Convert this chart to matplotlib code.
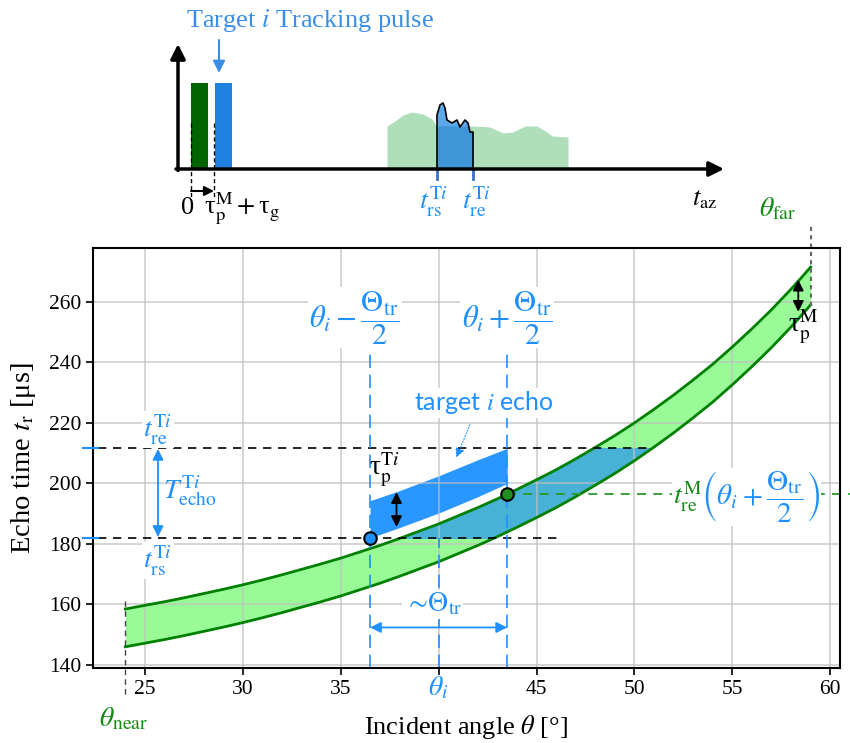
import numpy as np
import matplotlib.pyplot as plt
from matplotlib.patches import Rectangle

plt.rcParams['font.family'] = ['Liberation Serif', 'DejaVu Serif']
plt.rcParams['mathtext.fontset'] = 'stix'

# ---- main chart data ----
theta = np.array([24, 25, 26, 27, 28, 29, 30, 31, 32, 33, 34, 35, 36, 37, 38, 39, 40, 41,
                  42, 43, 44, 45, 46, 47, 48, 49, 50, 51, 52, 53, 54, 55, 56, 57, 58, 58.5, 59])
t_rs_M = np.array([146.0, 147.2, 148.4, 149.7, 151.1, 152.5, 154.0, 155.6, 157.3, 159.1,
                   160.9, 162.8, 164.9, 167.0, 169.3, 171.7, 174.1, 176.8, 179.5, 182.4,
                   185.5, 188.7, 192.0, 195.6, 199.4, 203.3, 207.5, 212.0, 216.7, 221.7,
                   226.9, 232.6, 238.6, 244.9, 251.7, 255.3, 259.0])
t_re_M = np.array([158.5, 159.7, 160.9, 162.2, 163.6, 165.0, 166.5, 168.1, 169.8, 171.6,
                   173.4, 175.3, 177.4, 179.5, 181.8, 184.2, 186.6, 189.3, 192.0, 194.9,
                   198.0, 201.2, 204.5, 208.1, 211.9, 215.8, 220.0, 224.5, 229.2, 234.2,
                   239.4, 245.1, 251.1, 257.4, 264.2, 267.8, 271.5])

theta_echo = np.array([36.5, 38, 40, 42, 43.5])
echo_low = np.array([182.0, 185.4, 190.2, 195.6, 200.0])
echo_high = np.array([194.3, 197.6, 202.5, 207.8, 211.6])

theta_i = 40.0
theta_lo, theta_hi = 36.5, 43.5
t_rs_T, t_re_T = 182.0, 211.7
t_green_dot = 196.5
theta_near, theta_far = 24.0, 59.0

xticks = [25, 30, 35, 40, 45, 50, 55, 60]
xticklabels = ['25', '30', '35', '', '45', '50', '55', '60']
yticks = [140, 160, 180, 200, 220, 240, 260]

# ---- top sketch data (sketch units) ----
pulse_x = [199.5, 223.5]
pulse_colors = ['#006400', '#1f80e0']
echo_x = [387, 395, 403, 412, 423, 432, 437, 473, 490, 503, 513, 525, 537, 547, 552, 568]
echo_top = [126, 121, 115, 112, 114, 119, 127, 126, 127, 133, 132, 126, 126, 132, 136, 137]
tgt_x = [437, 437, 440, 443, 445, 447, 452, 457, 460, 465, 468, 470, 473, 473]
tgt_top = [169, 115, 105, 103, 108, 120, 123, 120, 127, 120, 123, 132, 132, 169]

BLUE = '#1e90ff'
GREEN = '#138a13'
TAU = r'\mathregular{τ}'

fig = plt.figure(figsize=(8.5, 7.43), dpi=100)

# ================= main axes =================
ax = fig.add_axes([93 / 850, 1 - 668 / 743, (840 - 93) / 850, (668 - 248) / 743])
ax.set_xlim(22.35, 60.5)
ax.set_ylim(139, 277.8)
ax.grid(True, color='#bfbfbf', lw=1.2, alpha=0.75, zorder=1.5)
ax.set_axisbelow(False)
for s in ax.spines.values():
    s.set_linewidth(1.5)
    s.set_zorder(10)

ax.fill_between(theta, t_rs_M, t_re_M, color='#98fb98', zorder=1, lw=0)
teal = ax.fill_between(theta, t_rs_M, t_re_M, color='#48b2d6', zorder=1.2, lw=0)
clip = Rectangle((20, t_rs_T), 50, t_re_T - t_rs_T, transform=ax.transData)
teal.set_clip_path(clip)
ax.plot(theta, t_rs_M, color='green', lw=2, zorder=3)
ax.plot(theta, t_re_M, color='green', lw=2, zorder=3)

ax.fill_between(theta_echo, echo_low, echo_high, color=BLUE, alpha=0.95, zorder=1, lw=0)

# dashed guides
ax.plot([21.85, 50.9], [t_re_T, t_re_T], 'k--', lw=1.2, zorder=4, clip_on=False, dashes=(5, 4))
ax.plot([21.85, 46.3], [t_rs_T, t_rs_T], 'k--', lw=1.2, zorder=4, clip_on=False, dashes=(5, 4))
for yv in (t_re_T, t_rs_T):
    ax.plot([21.85, 22.6], [yv, yv], color=BLUE, lw=1.5, zorder=11, clip_on=False)
for xv in (theta_lo, theta_hi):
    ax.plot([xv, xv], [139, 247], color=BLUE, lw=1.2, dashes=(8, 4), zorder=4)
ax.plot([theta_i, theta_i], [139, 182], color=BLUE, lw=1.2, dashes=(8, 4), zorder=4)
ax.plot([theta_hi, 61.0], [t_green_dot, t_green_dot], color='#2a9a2a', lw=1.3,
        dashes=(5, 4), zorder=4, clip_on=False)
ax.plot([theta_near, theta_near], [161, 130], color='#444444', lw=1, dashes=(4, 3),
        zorder=4, clip_on=False)
ax.plot([theta_far, theta_far], [258.6, 285.4], color='#666666', lw=1.5, dashes=(2, 2),
        zorder=4, clip_on=False)

ax.plot(theta_lo, t_rs_T, 'o', ms=9, mfc=BLUE, mec='k', mew=1.5, zorder=6)
ax.plot(theta_hi, t_green_dot, 'o', ms=9, mfc='#1f8f1f', mec='k', mew=1.5, zorder=6)

dbl = dict(arrowstyle='<|-|>', color='k', lw=1.3, mutation_scale=16, shrinkA=0, shrinkB=0)
ax.annotate('', xy=(58.37, 256.7), xytext=(58.37, 267.3), arrowprops=dbl, zorder=6)
ax.annotate('', xy=(37.85, 185.6), xytext=(37.85, 197.1), arrowprops=dbl, zorder=6)
dblb = dict(arrowstyle='<|-|>', color=BLUE, lw=1.3, mutation_scale=16, shrinkA=0, shrinkB=0)
ax.annotate('', xy=(25.67, t_rs_T + 0.3), xytext=(25.67, t_re_T - 0.3), arrowprops=dblb, zorder=6)
ax.annotate('', xy=(theta_lo, 152.4), xytext=(theta_hi, 152.4), arrowprops=dblb, zorder=6)
ax.annotate('', xy=(40.9, 208.5), xytext=(41.6, 219.4),
            arrowprops=dict(arrowstyle='-|>', color=BLUE, lw=0.8, ls=':', mutation_scale=14,
                            shrinkA=0, shrinkB=0), zorder=6)

wb = dict(facecolor='white', edgecolor='none', pad=1.0)
fs = 20
ffs = 22
ax.text(35.72, 254.7, r'$\theta_i-\dfrac{\Theta_\mathrm{tr}}{2}$', color=BLUE, fontsize=ffs,
        ha='center', va='center', bbox=wb, zorder=7)
ax.text(43.5, 254.7, r'$\theta_i+\dfrac{\Theta_\mathrm{tr}}{2}$', color=BLUE, fontsize=ffs,
        ha='center', va='center', bbox=wb, zorder=7)
ax.text(42.3, 226.7, 'target $i$ echo', color=BLUE, fontsize=18, family='Lato',
        ha='center', va='center', bbox=wb, zorder=7)
ax.text(37.25, 204.6, r'$' + TAU + r'_\mathrm{p}^{\mathrm{T}i}$', color='k', fontsize=fs,
        ha='center', va='center', zorder=7)
ax.text(25.67, 217.8, r'$t_\mathrm{re}^{\mathrm{T}i}$', color=BLUE, fontsize=fs,
        ha='center', va='center', bbox=wb, zorder=7)
ax.text(25.67, 174.5, r'$t_\mathrm{rs}^{\mathrm{T}i}$', color=BLUE, fontsize=fs,
        ha='center', va='center', bbox=wb, zorder=7)
ax.text(25.95, 197.7, r'$T_\mathrm{echo}^{\mathrm{T}i}$', color=BLUE, fontsize=fs,
        ha='left', va='center', zorder=7)
ax.text(39.7, 160.0, r'$\sim\!\Theta_\mathrm{tr}$', color=BLUE, fontsize=fs,
        ha='center', va='center', bbox=wb, zorder=7)
ax.text(58.6, 252.0, r'$' + TAU + r'_\mathrm{p}^\mathrm{M}$', color='k', fontsize=fs,
        ha='center', va='center', zorder=7)
ax.text(53.45, 195.4, r'$t_\mathrm{re}^\mathrm{M}$', color=GREEN, fontsize=fs,
        ha='right', va='center', bbox=wb, zorder=7)
ax.text(53.4, 195.4, r'$\left(\theta_i+\dfrac{\Theta_\mathrm{tr}}{2}\right)$', color=BLUE,
        fontsize=21, ha='left', va='center', bbox=wb, zorder=7)
ax.text(57.3, 290.5, r'$\theta_\mathrm{far}$', color=GREEN, fontsize=fs,
        ha='center', va='center', clip_on=False)
ax.text(23.9, 122.0, r'$\theta_\mathrm{near}$', color=GREEN, fontsize=fs,
        ha='center', va='center', clip_on=False)
ax.text(theta_i, 132.3, r'$\theta_i$', color=BLUE, fontsize=fs,
        ha='center', va='center', clip_on=False)

ax.set_xticks(xticks)
ax.set_xticklabels(xticklabels)
ax.set_yticks(yticks)
ax.tick_params(labelsize=15.5, length=5, width=1.2)
ax.set_xlabel(r'Incident angle $\theta$ [°]', fontsize=19, labelpad=10)
ax.set_ylabel(r'Echo time $t_\mathrm{r}$ [μs]', fontsize=20.5, labelpad=8)

# ================= top sketch =================
top = fig.add_axes([0, 1 - 235 / 743, 1, 235 / 743])
top.set_xlim(0, 850)
top.set_ylim(235, 0)
top.axis('off')

top.fill_between(echo_x, 169, echo_top, color='#aedfb9', lw=0)
top.fill_between(tgt_x, 169, tgt_top, color='#5ba8ea', lw=0)
top.fill_between(tgt_x, 169, np.maximum(tgt_top, 126), color='#3f96d6', lw=0)
top.plot(tgt_x, tgt_top, color='k', lw=1.2)
for xv in (tgt_x[0], tgt_x[-1]):
    top.plot([xv, xv], [169, 179], color='#3a70c8', lw=2)
for xc, c in zip(pulse_x, pulse_colors):
    top.bar(xc, 86, bottom=83, width=17, color=c)

ax_arrow = dict(arrowstyle='-|>', color='k', lw=2.5, mutation_scale=22, shrinkA=0, shrinkB=0)
top.annotate('', xy=(724, 169), xytext=(176, 169), arrowprops=ax_arrow)
top.annotate('', xy=(178, 44), xytext=(178, 170.5), arrowprops=ax_arrow)
top.annotate('', xy=(219, 73), xytext=(219, 40),
             arrowprops=dict(arrowstyle='-|>', color='#3a8ee6', lw=1.5, mutation_scale=18,
                             shrinkA=0, shrinkB=0))
top.plot([191, 191], [123, 200], 'k--', lw=1, dashes=(3, 2))
top.plot([214, 214], [123, 197], 'k--', lw=1, dashes=(3, 2))
top.annotate('', xy=(214, 191), xytext=(191, 191),
             arrowprops=dict(arrowstyle='-|>', color='k', lw=1.5, mutation_scale=14,
                             shrinkA=0, shrinkB=0))

top.text(310, 20, 'Target $i$ Tracking pulse', color='#3a8ee6', fontsize=19,
         ha='center', va='center')
top.text(188, 208, '0', fontsize=19, ha='center', va='center')
top.text(204, 209, r'$' + TAU + r'_\mathrm{p}^\mathrm{M}+' + TAU + r'_\mathrm{g}$',
         fontsize=19, ha='left', va='center')
top.text(434, 202, r'$t_\mathrm{rs}^{\mathrm{T}i}$', color=BLUE, fontsize=20,
         ha='center', va='center')
top.text(477, 202, r'$t_\mathrm{re}^{\mathrm{T}i}$', color=BLUE, fontsize=20,
         ha='center', va='center')
top.text(705, 200, r'$t_\mathrm{az}$', fontsize=19, ha='center', va='center')

fig.savefig('out.png', dpi=100)
